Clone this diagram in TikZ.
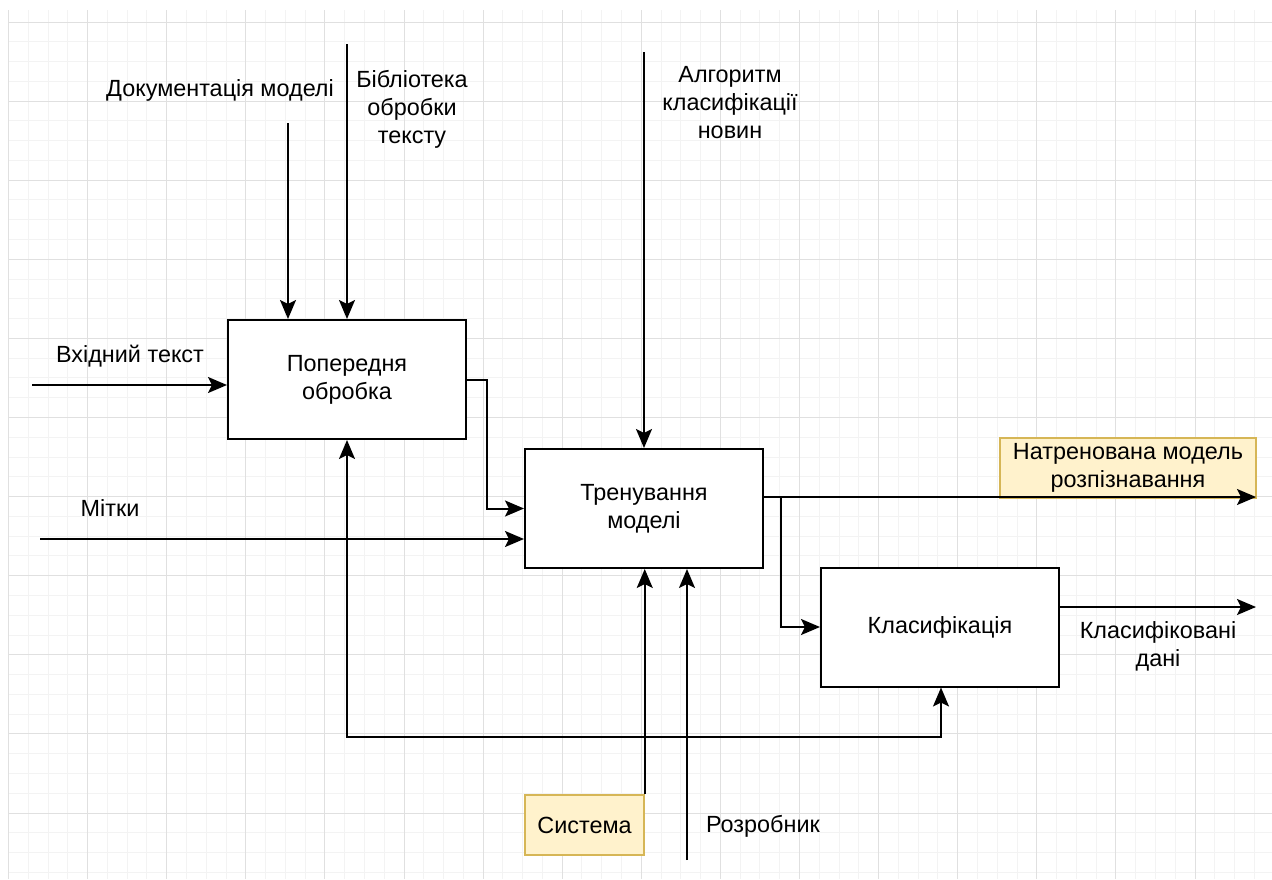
\documentclass[tikz,border=0pt]{standalone}
\usepackage{fontspec}
\setmainfont{Liberation Sans}
\usetikzlibrary{arrows.meta,calc}
\definecolor{minorc}{HTML}{F3F3F3}
\definecolor{majorc}{HTML}{E0E0E0}
\definecolor{noteFill}{HTML}{FFF2CC}
\definecolor{noteDraw}{HTML}{D6B656}
\tikzset{
  minorline/.style={draw=minorc,line width=1pt},
  majorline/.style={draw=majorc,line width=1pt},
  txt/.style={font=\fontsize{23.4}{28}\selectfont,align=center,inner sep=0pt},
  procbox/.style={draw=black,fill=white,line width=2pt,minimum width=238pt,minimum height=119pt,txt},
  notebox/.style={draw=noteDraw,fill=noteFill,line width=1.5pt,txt},
  arr/.style={draw=black,line width=2pt,-{Stealth[length=19pt,width=16pt,inset=4pt]}},
  arrboth/.style={draw=black,line width=2pt,{Stealth[length=19pt,width=16pt,inset=4pt]}-{Stealth[length=19pt,width=16pt,inset=4pt]}},
}
\begin{document}
\begin{tikzpicture}[x=1pt,y=-1pt]
\useasboundingbox (0,0) rectangle (1272,879);
\fill[white] (0,0) rectangle (1272,879);
% grid
\foreach \i in {0,...,63} \draw[minorline] ({8.5+19.775*\i},10) -- ({8.5+19.775*\i},879);
\foreach \j in {0,...,43} \draw[minorline] (8.5,{22+19.775*\j}) -- (1272,{22+19.775*\j});
\foreach \i in {0,...,15} \draw[majorline] ({8.5+79.1*\i},10) -- ({8.5+79.1*\i},879);
\foreach \j in {0,...,10} \draw[majorline] (8.5,{22+79.1*\j}) -- (1272,{22+79.1*\j});

% process boxes
\node[procbox] (A) at (347,379.5) {Попередня\\обробка};
\node[procbox] (B) at (644,508.5) {Тренування\\моделі};
\node[procbox] (C) at (940,627) {Класифікація};

% note boxes
\node[notebox,minimum width=256pt,minimum height=60pt] (out1) at (1128,468) {Натренована модель\\розпізнавання};
\node[notebox,minimum width=119pt,minimum height=60pt] (sys) at (584.5,825) {Система};

% labels
\node[txt] (ldoc) at (220,90) {Документація моделі};
\node[txt] (llib) at (412,109) {Бібліотека\\обробки\\тексту};
\node[txt] (lalg) at (730,103) {Алгоритм\\класифікації\\новин};
\node[txt] (lin) at (130,356) {Вхідний текст};
\node[txt] (lmit) at (110,508) {Мітки};
\node[txt] (lcls) at (1158,646) {Класифіковані\\дані};
\node[txt] (ldev) at (763,826) {Розробник};

% free ends
\coordinate (docS) at (288,123);
\coordinate (libS) at (347,44);
\coordinate (algS) at (644,52);
\coordinate (inS) at (32,385);
\coordinate (mS) at (40,539);
\coordinate (devS) at (687,860);
\coordinate (outT) at (1256,497);
\coordinate (br) at (781,497);
\coordinate (outC) at (1256,607);
\coordinate (fbL) at (347,737);
\coordinate (fbR) at (941,737);

% connectors
\draw[arr] (docS) -- (docS |- A.north);
\draw[arr] (libS) -- (libS |- A.north);
\draw[arr] (inS) -- (inS -| A.west);
\draw[arr] (A.east) -- ++(20,0) |- (B.west);
\draw[arr] (mS) -- (mS -| B.west);
\draw[arr] (algS) -- (algS |- B.north);
\draw[arr] (sys.north east) -- (sys.north east |- B.south);
\draw[arr] (devS) -- (devS |- B.south);
\draw[arr] (outT -| B.east) -- (outT);
\draw[arr] (br) |- (C.west);
\draw[arr] (outC -| C.east) -- (outC);
\draw[arrboth] (fbL |- A.south) -- (fbL) -- (fbR) -- (fbR |- C.south);
\end{tikzpicture}
\end{document}
